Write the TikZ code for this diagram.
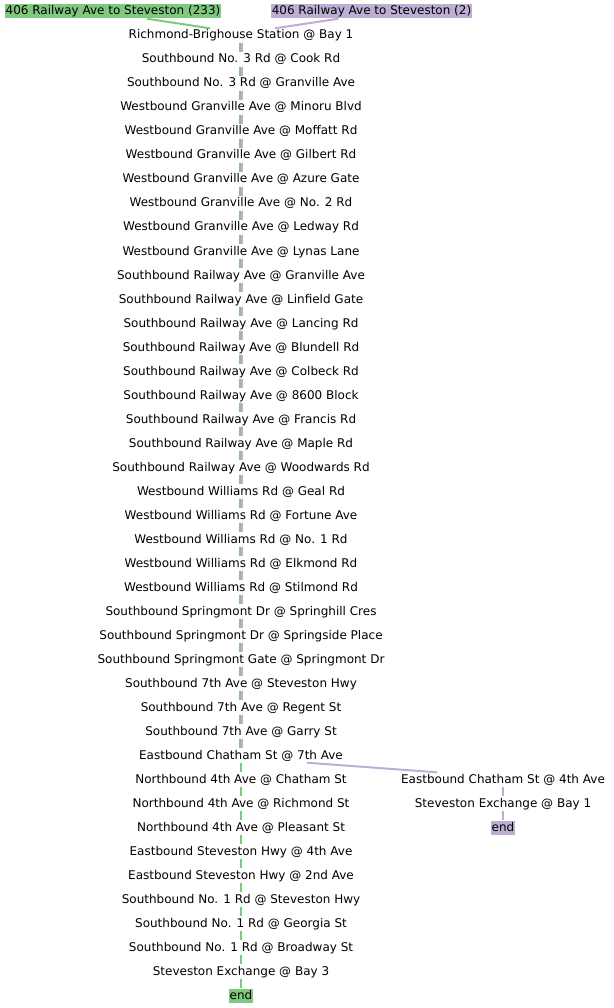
\documentclass[tikz,border=0pt]{standalone}
\usepackage{fontspec}
\setmainfont{DejaVu Sans}
\usetikzlibrary{positioning}
\definecolor{rtgreen}{HTML}{7FC97F}
\definecolor{rtpurple}{HTML}{BEAED4}
\begin{document}
\begin{tikzpicture}[
        x=1pt, y=-1pt,
        stop/.style={inner sep=1pt, text height=9.5pt, text depth=2.5pt, font=\fontsize{12}{14}\selectfont},
        head/.style={stop, fill=#1},
        gline/.style={draw=rtgreen, line width=2pt},
        pline/.style={draw=rtpurple, line width=2pt}
    ]
        \useasboundingbox (0,0) rectangle (613,1008);
        % route headers
        \node[head=rtgreen] (hg) at (113,11.5) {406 Railway Ave to Steveston (233)};
        \node[head=rtpurple] (hp) at (371.5,11.5) {406 Railway Ave to Steveston (2)};
        % shared stops
        \node[stop] (s1) at (241,35.5) {Richmond-Brighouse Station @ Bay 1};
        \node[stop] (s2) at (241,59.5) {Southbound No. 3 Rd @ Cook Rd};
        \node[stop] (s3) at (241,83.5) {Southbound No. 3 Rd @ Granville Ave};
        \node[stop] (s4) at (241,107.5) {Westbound Granville Ave @ Minoru Blvd};
        \node[stop] (s5) at (241,131.5) {Westbound Granville Ave @ Moffatt Rd};
        \node[stop] (s6) at (241,155.5) {Westbound Granville Ave @ Gilbert Rd};
        \node[stop] (s7) at (241,179.5) {Westbound Granville Ave @ Azure Gate};
        \node[stop] (s8) at (241,203.5) {Westbound Granville Ave @ No. 2 Rd};
        \node[stop] (s9) at (241,227.5) {Westbound Granville Ave @ Ledway Rd};
        \node[stop] (s10) at (241,251.5) {Westbound Granville Ave @ Lynas Lane};
        \node[stop] (s11) at (241,275.5) {Southbound Railway Ave @ Granville Ave};
        \node[stop] (s12) at (241,299.5) {Southbound Railway Ave @ Linfield Gate};
        \node[stop] (s13) at (241,323.5) {Southbound Railway Ave @ Lancing Rd};
        \node[stop] (s14) at (241,347.5) {Southbound Railway Ave @ Blundell Rd};
        \node[stop] (s15) at (241,371.5) {Southbound Railway Ave @ Colbeck Rd};
        \node[stop] (s16) at (241,395.5) {Southbound Railway Ave @ 8600 Block};
        \node[stop] (s17) at (241,419.5) {Southbound Railway Ave @ Francis Rd};
        \node[stop] (s18) at (241,443.5) {Southbound Railway Ave @ Maple Rd};
        \node[stop] (s19) at (241,467.5) {Southbound Railway Ave @ Woodwards Rd};
        \node[stop] (s20) at (241,491.5) {Westbound Williams Rd @ Geal Rd};
        \node[stop] (s21) at (241,515.5) {Westbound Williams Rd @ Fortune Ave};
        \node[stop] (s22) at (241,539.5) {Westbound Williams Rd @ No. 1 Rd};
        \node[stop] (s23) at (241,563.5) {Westbound Williams Rd @ Elkmond Rd};
        \node[stop] (s24) at (241,587.5) {Westbound Williams Rd @ Stilmond Rd};
        \node[stop] (s25) at (241,611.5) {Southbound Springmont Dr @ Springhill Cres};
        \node[stop] (s26) at (241,635.5) {Southbound Springmont Dr @ Springside Place};
        \node[stop] (s27) at (241,659.5) {Southbound Springmont Gate @ Springmont Dr};
        \node[stop] (s28) at (241,683.5) {Southbound 7th Ave @ Steveston Hwy};
        \node[stop] (s29) at (241,707.5) {Southbound 7th Ave @ Regent St};
        \node[stop] (s30) at (241,731.5) {Southbound 7th Ave @ Garry St};
        \node[stop] (s31) at (241,755.5) {Eastbound Chatham St @ 7th Ave};
        % green branch
        \node[stop] (s32) at (241,779.5) {Northbound 4th Ave @ Chatham St};
        \node[stop] (s33) at (241,803.5) {Northbound 4th Ave @ Richmond St};
        \node[stop] (s34) at (241,827.5) {Northbound 4th Ave @ Pleasant St};
        \node[stop] (s35) at (241,851.5) {Eastbound Steveston Hwy @ 4th Ave};
        \node[stop] (s36) at (241,875.5) {Eastbound Steveston Hwy @ 2nd Ave};
        \node[stop] (s37) at (241,899.5) {Southbound No. 1 Rd @ Steveston Hwy};
        \node[stop] (s38) at (241,923.5) {Southbound No. 1 Rd @ Georgia St};
        \node[stop] (s39) at (241,947.5) {Southbound No. 1 Rd @ Broadway St};
        \node[stop] (s40) at (241,971.5) {Steveston Exchange @ Bay 3};
        \node[head=rtgreen] (gend) at (241,995.5) {end};
        % purple branch
        \node[stop] (p1) at (503,779.5) {Eastbound Chatham St @ 4th Ave};
        \node[stop] (p2) at (503,803.5) {Steveston Exchange @ Bay 1};
        \node[head=rtpurple] (pend) at (503,827.5) {end};
        % connectors
        \draw[gline] ([xshift=34pt]hg.south) -- ([xshift=-31pt]s1.north);
        \draw[pline] ([xshift=-33pt]hp.south) -- ([xshift=34pt]s1.north);
        \foreach \i [count=\j from 2] in {1,...,30} {
            \draw[gline] ([xshift=-1pt]s\i.south) -- ([xshift=-1pt]s\j.north);
            \draw[pline] ([xshift=1pt]s\i.south) -- ([xshift=1pt]s\j.north);
        }
        \foreach \i [count=\j from 32] in {31,...,39}
            \draw[gline] (s\i) -- (s\j);
        \draw[gline] (s40) -- (gend);
        \draw[pline] ([xshift=66pt]s31.south) -- ([xshift=-66pt]p1.north);
        \draw[pline] (p1) -- (p2);
        \draw[pline] (p2) -- (pend);
    \end{tikzpicture}
\end{document}
